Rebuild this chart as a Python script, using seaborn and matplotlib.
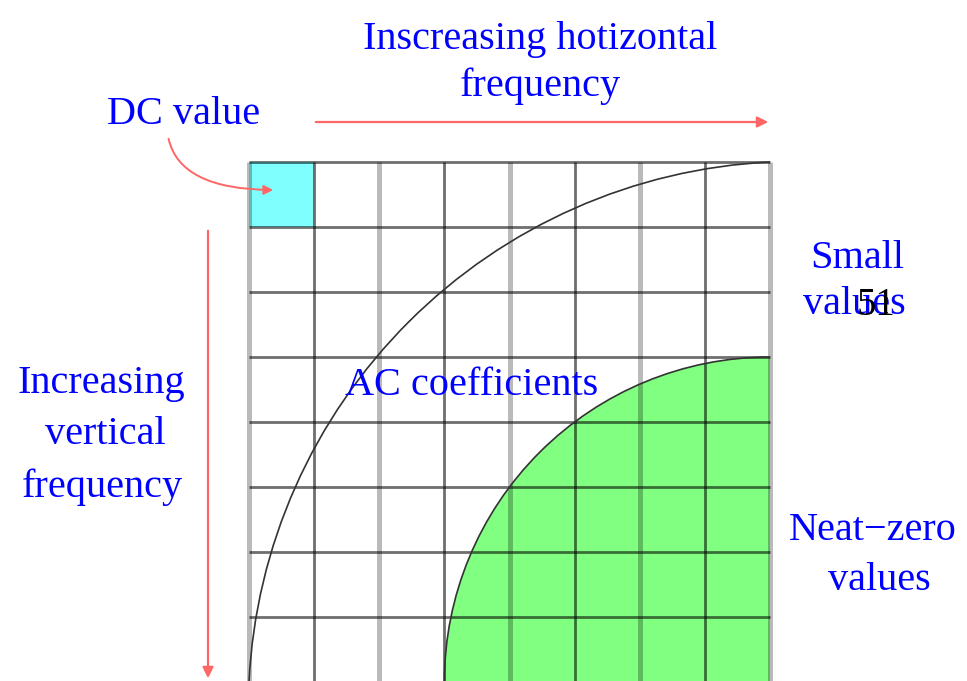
import matplotlib
matplotlib.use("Agg")
import matplotlib.pyplot as plt
from matplotlib.patches import Rectangle, Wedge, Arc, FancyArrowPatch
import seaborn as sns

sns.set_style("white")
plt.rcParams['font.family'] = ['Liberation Serif', 'DejaVu Serif']

# ---- diagram data (grid units: one cell = 1) ----
n_cells = 8
thick_cols = [0, 2, 4, 6, 8]
thin_cols = [1, 3, 5, 7]
rows = [0, 1, 2, 3, 4, 5, 6, 7, 8]
dc_cell = (0, 0)
near_zero_center = (8, 8)
near_zero_radius = 5
small_center = (8.41, 8.41)
small_radius = 8.42
small_theta = (182.8, 267.2)

# labels: text, x(px), y(px, baseline), colour, size
labels = [
    ("Inscreasing hotizontal", 540, 49, "#0000ff", 29),
    ("frequency", 540, 96, "#0000ff", 29),
    ("DC value", 184, 124, "#0000ff", 29),
    ("Small", 857, 268, "#0000ff", 29),
    ("values", 854, 314, "#0000ff", 29),
    ("Increasing", 101, 393, "#0000ff", 29),
    ("vertical", 105, 444, "#0000ff", 29),
    ("frequency", 102, 497, "#0000ff", 29),
    ("AC coefficients", 472, 395, "#0000ff", 29),
    ("Neat\u2212zero", 873, 540, "#0000ff", 29),
    ("values", 879, 590, "#0000ff", 29),
    ("51", 876, 315, "#000000", 28),
]

# pixel -> grid units
X0, Y0, CW, CH = 249.0, 162.0, 65.125, 65.0
def gu(x, y):
    return (x - X0) / CW, (y - Y0) / CH

fig = plt.figure(figsize=(9.67, 6.81), dpi=100)
ax = fig.add_axes([0, 0, 1, 1])
ax.set_xlim(-X0 / CW, (967 - X0) / CW)
ax.set_ylim((681 - Y0) / CH, -Y0 / CH)
ax.axis('off')

# fills
ax.add_patch(Rectangle(dc_cell, 1, 1, facecolor='#80ffff', edgecolor='none', zorder=1))
ax.add_patch(Wedge(near_zero_center, near_zero_radius, 180, 270,
                   facecolor='#80ff80', edgecolor='none', zorder=1))

# grid lines
ax.vlines(thick_cols, 0, n_cells, colors='black', alpha=0.27, lw=3.6, zorder=2)
ax.vlines(thin_cols, 0, n_cells, colors='black', alpha=0.57, lw=2.0, zorder=2)
ax.hlines(rows, 0, n_cells, colors='black', alpha=0.57, lw=2.0, zorder=2)

# curves
ax.add_patch(Arc(near_zero_center, 2 * near_zero_radius, 2 * near_zero_radius,
                 theta1=180, theta2=270, color='#333333', lw=1.2, zorder=3))
ax.add_patch(Arc(small_center, 2 * small_radius, 2 * small_radius,
                 theta1=small_theta[0], theta2=small_theta[1],
                 color='#333333', lw=1.2, zorder=3))

# arrows
red = '#ff6666'
ax.add_patch(FancyArrowPatch(gu(313, 122), gu(771, 122), arrowstyle='-|>',
                             mutation_scale=16, color=red, lw=1.6, zorder=4))
ax.add_patch(FancyArrowPatch(gu(208, 228), gu(208, 681), arrowstyle='-|>',
                             mutation_scale=16, color=red, lw=1.6, zorder=4))
ax.add_patch(FancyArrowPatch(gu(168, 136), gu(276, 190), arrowstyle='-|>',
                             connectionstyle='angle3,angleA=-80,angleB=0',
                             mutation_scale=14, color=red, lw=1.4, zorder=4))

for txt, x, y, c, s in labels:
    ax.text(*gu(x, y), txt, color=c, fontsize=s, ha='center', va='baseline', zorder=5)

fig.savefig('out.png', dpi=100)
